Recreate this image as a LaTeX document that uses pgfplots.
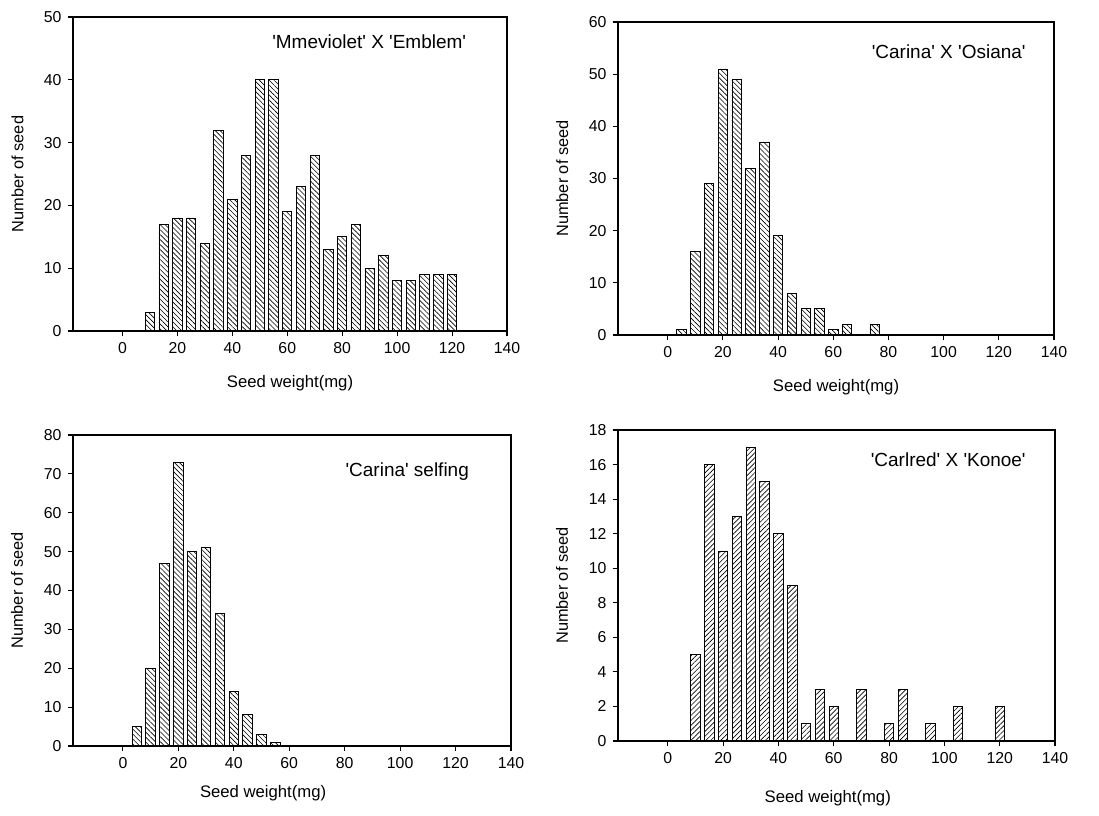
\documentclass[border=0pt]{standalone}
\usepackage{fontspec}
\setmainfont{Liberation Sans}
\usepackage{pgfplots}
\pgfplotsset{compat=1.18}
\usetikzlibrary{patterns.meta}
\newcommand\q{\textquotesingle}
\pgfplotsset{
  seed/.style={
    scale only axis, ybar, bar width=3.4,
    xmin=-18, xmax=140, ymin=0,
    xtick={0,20,...,140},
    tick align=outside, xtick pos=bottom, ytick pos=left,
    major tick length=3pt,
    tick style={black,line width=0.6pt},
    axis line style={black,line width=0.7pt},
    /pgf/number format/assume math mode=true,
    ticklabel style={font=\fontsize{9}{10}\selectfont},
    xlabel={Seed weight(mg)}, ylabel={Number of seed},
    x label style={font=\fontsize{9.5}{11}\selectfont,at={(axis description cs:0.5,-0.166)},anchor=center},
    y label style={font=\fontsize{9.3}{11}\selectfont,at={(axis description cs:-0.128,0.5)},anchor=center},
  },
  bs/.style={draw=black,line width=0.5pt,pattern={Lines[angle=-45,distance=2pt,line width=0.35pt]}},
  bn/.style={draw=black,line width=0.5pt,pattern={Lines[angle=45,distance=2pt,line width=0.35pt]}},
}
\tikzset{ttl/.style={anchor=east,font=\fontsize{10.8}{12}\selectfont}}
\begin{document}
\begin{tikzpicture}
\path (0,0) rectangle (21.98,16.30);

% top left
\begin{axis}[seed, at={(1.46cm,9.68cm)}, anchor=south west,
  width=8.68cm, height=6.28cm, ymax=50, ytick={0,10,...,50}]
\addplot[bs] coordinates {(10,3) (15,17) (20,18) (25,18) (30,14) (35,32) (40,21) (45,28)
  (50,40) (55,40) (60,19) (65,23) (70,28) (75,13) (80,15) (85,17) (90,10) (95,12)
  (100,8) (105,8) (110,9) (115,9) (120,9)};
\node[ttl] at (rel axis cs:0.92,0.92) {\q Mmeviolet\q{} X \q Emblem\q};
\end{axis}

% top right
\begin{axis}[seed, at={(12.36cm,9.60cm)}, anchor=south west,
  width=8.72cm, height=6.26cm, ymax=60, ytick={0,10,...,60}]
\addplot[bs] coordinates {(5,1) (10,16) (15,29) (20,51) (25,49) (30,32) (35,37) (40,19)
  (45,8) (50,5) (55,5) (60,1) (65,2) (75,2)};
\node[ttl] at (rel axis cs:0.949,0.904) {\q Carina\q{} X \q Osiana\q};
\end{axis}

% bottom left
\begin{axis}[seed, at={(1.46cm,1.38cm)}, anchor=south west,
  width=8.76cm, height=6.22cm, ymax=80, ytick={0,10,...,80},
  x label style={at={(axis description cs:0.434,-0.151)}}]
\addplot[bs] coordinates {(5,5) (10,20) (15,47) (20,73) (25,50) (30,51) (35,34) (40,14)
  (45,8) (50,3) (55,1)};
\node[ttl] at (rel axis cs:0.918,0.882) {\q Carina\q{} selfing};
\end{axis}

% bottom right
\begin{axis}[seed, at={(12.36cm,1.48cm)}, anchor=south west,
  width=8.74cm, height=6.22cm, ymax=18, ytick={0,2,...,18},
  x label style={at={(axis description cs:0.48,-0.183)}}]
\addplot[bn] coordinates {(10,5) (15,16) (20,11) (25,13) (30,17) (35,15) (40,12) (45,9)
  (50,1) (55,3) (60,2) (70,3) (80,1) (85,3) (95,1) (105,2) (120,2)};
\node[ttl] at (rel axis cs:0.947,0.904) {\q Carlred\q{} X \q Konoe\q};
\end{axis}
\end{tikzpicture}
\end{document}
